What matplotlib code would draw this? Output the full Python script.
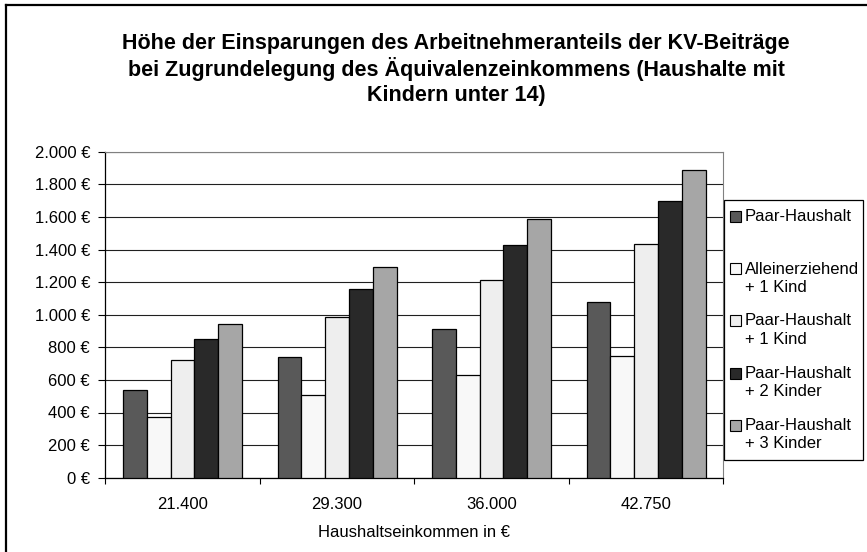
import matplotlib
matplotlib.use("Agg")
import matplotlib.pyplot as plt
import numpy as np
from matplotlib.patches import Rectangle
from matplotlib.lines import Line2D

# ------------------------------------------------------------
# Data
# ------------------------------------------------------------

categories = ["21.400", "29.300", "36.000", "42.750"]

series_names = [
    "Paar-Haushalt",
    "Alleinerziehend\n+ 1 Kind",
    "Paar-Haushalt\n+ 1 Kind",
    "Paar-Haushalt\n+ 2 Kinder",
    "Paar-Haushalt\n+ 3 Kinder",
]

paar = [540, 740, 910, 1080]
allein_1 = [375, 510, 630, 745]
paar_1 = [720, 985, 1210, 1435]
paar_2 = [850, 1160, 1425, 1695]
paar_3 = [945, 1295, 1590, 1885]

series_values = [paar, allein_1, paar_1, paar_2, paar_3]
series_colors = ["#595959", "#f8f8f8", "#eeeeee", "#292929", "#a6a6a6"]

title_lines = [
    "Höhe der Einsparungen des Arbeitnehmeranteils der KV-Beiträge",
    "bei Zugrundelegung des Äquivalenzeinkommens (Haushalte mit",
    "Kindern unter 14)",
]

# ------------------------------------------------------------
# Figure
# ------------------------------------------------------------

plt.rcParams["font.family"] = ["Liberation Sans", "DejaVu Sans"]

W, H = 867, 552
fig = plt.figure(figsize=(W / 100, H / 100), dpi=100)


def fx(px):
    return px / W


def fy(py):
    return 1 - py / H


ax = fig.add_axes([fx(105.3), fy(477.7), (723.3 - 105.3) / W, (477.7 - 151.7) / H])

x = np.arange(len(categories))
bar_w = 0.154

for i, (vals, col) in enumerate(zip(series_values, series_colors)):
    ax.bar(x + (i - 2) * bar_w, vals, width=bar_w, color=col,
           edgecolor="black", linewidth=0.9, zorder=3)

ax.set_xlim(-0.5, len(categories) - 0.5)
ax.set_ylim(0, 2000)
ax.set_yticks(np.arange(0, 2001, 200))
ax.set_yticklabels([f"{v:,.0f}".replace(",", ".") + " €" for v in range(0, 2001, 200)])
ax.yaxis.grid(True, color="#202020", linewidth=0.8, zorder=0)

ax.set_xticks(x)
ax.set_xticklabels(categories)
ax.set_xticks(np.arange(-0.5, len(categories), 1.0), minor=True)
ax.tick_params(axis="x", which="major", length=0, pad=14, labelsize=12)
ax.tick_params(axis="x", which="minor", length=4, width=0.8, direction="out")
ax.tick_params(axis="y", length=5, width=0.8, direction="out", pad=6, labelsize=12)

ax.spines["top"].set_color("#808080")
ax.spines["right"].set_color("#808080")
ax.spines["left"].set_linewidth(0.9)
ax.spines["bottom"].set_linewidth(0.9)

ax.set_xlabel("Haushaltseinkommen in €", fontsize=12, labelpad=9)

# title
for k, line in enumerate(title_lines):
    fig.text(fx(456), fy(43 + 26 * k), line, ha="center", va="center",
             fontsize=15.5, fontweight="bold")

# legend (drawn by hand, Excel style)
fig.add_artist(Rectangle((fx(723.5), fy(460)), (863 - 723.5) / W, (460 - 199.5) / H,
                         transform=fig.transFigure, facecolor="white",
                         edgecolor="black", linewidth=0.9))
row_y = [216.7, 269, 320.5, 373, 425]
for name, col, ry in zip(series_names, series_colors, row_y):
    fig.add_artist(Rectangle((fx(730), fy(ry + 5.5)), 11 / W, 11 / H,
                             transform=fig.transFigure, facecolor=col,
                             edgecolor="black", linewidth=0.8))
    for j, part in enumerate(name.split("\n")):
        fig.text(fx(745), fy(ry + 19 * j), part, ha="left", va="center", fontsize=12)

# outer frame (only top and left visible)
fig.add_artist(Line2D([fx(6), 1], [fy(5), fy(5)], transform=fig.transFigure,
                      color="black", linewidth=1.6))
fig.add_artist(Line2D([fx(6), fx(6)], [fy(5), 0], transform=fig.transFigure,
                      color="black", linewidth=1.6))

fig.savefig("out.png", dpi=100)
